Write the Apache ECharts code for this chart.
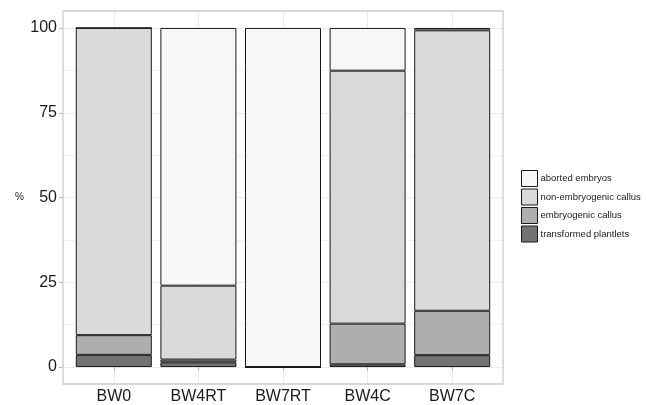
<!DOCTYPE html>
<html>
<head>
<meta charset="utf-8">
<script src="https://cdn.jsdelivr.net/npm/echarts@6/dist/echarts.min.js"></script>
<style>
html,body{margin:0;padding:0;background:#fff;}
#chart{width:646px;height:405px;}
</style>
</head>
<body>
<div id="chart"></div>
<script>
// Categories and stacked values (percent), bottom to top
var categories = ['BW0', 'BW4RT', 'BW7RT', 'BW4C', 'BW7C'];
var transformedPlantlets = [3.6, 1.4, 0, 0.8, 3.5];
var embryogenicCallus = [5.8, 0.8, 0, 12.0, 13.1];
var nonEmbryogenicCallus = [90.6, 21.8, 0, 74.6, 82.7];
var abortedEmbryos = [0, 76.0, 100, 12.6, 0.7];
var yTicks = [0, 25, 50, 75, 100];

var seriesNames = ['transformed plantlets', 'embryogenic callus', 'non-embryogenic callus', 'aborted embryos'];
var seriesData = [transformedPlantlets, embryogenicCallus, nonEmbryogenicCallus, abortedEmbryos];
var seriesColors = ['#727272', '#adaead', '#d9dad9', '#f7f7f7'];

var FONT = 'Liberation Sans, Arial, sans-serif';
var chart = echarts.init(document.getElementById('chart'), null, {renderer: 'canvas'});

var series = seriesNames.map(function (name, i) {
  return {
    name: name,
    type: 'bar',
    stack: 'total',
    xAxisIndex: 1,
    yAxisIndex: 1,
    barWidth: 76,
    clip: false,
    data: seriesData[i],
    itemStyle: {color: seriesColors[i], borderColor: '#1a1a1a', borderWidth: 1},
    emphasis: {disabled: true},
    z: 5
  };
});

var option = {
  animation: false,
  backgroundColor: '#ffffff',
  grid: [
    {left: 63, right: 143, top: 28, bottom: 38},
    {left: 113.8, right: 646 - 452.2, top: 11, bottom: 21}
  ],
  xAxis: [
    {gridIndex: 0, type: 'value', show: false, min: 0, max: 1},
    {
      gridIndex: 1, type: 'category', data: categories, boundaryGap: false,
      axisLine: {show: false},
      axisTick: {show: true, length: 4, lineStyle: {color: '#b8b8b8', width: 1}},
      axisLabel: {margin: 5, fontSize: 16, color: '#1a1a1a', fontFamily: FONT},
      splitLine: {show: true, lineStyle: {color: '#ebebeb', width: 1}}
    }
  ],
  yAxis: [
    {
      gridIndex: 0, type: 'value', min: yTicks[0], max: yTicks[yTicks.length - 1], interval: 25,
      name: '%', nameLocation: 'middle', nameRotate: 0, nameGap: 39,
      nameTextStyle: {fontSize: 10, color: '#1a1a1a', fontFamily: FONT},
      axisLine: {show: false},
      axisTick: {show: true, length: 4, lineStyle: {color: '#b8b8b8', width: 1}},
      axisLabel: {margin: 6, fontSize: 16, color: '#1a1a1a', fontFamily: FONT},
      splitLine: {show: true, lineStyle: {color: '#ebebeb', width: 1}},
      minorTick: {show: false, splitNumber: 2},
      minorSplitLine: {show: true, lineStyle: {color: '#f2f2f2', width: 1}}
    },
    {gridIndex: 1, type: 'value', min: -5, max: 105, show: false, splitLine: {show: false}}
  ],
  legend: {
    orient: 'vertical',
    left: 521,
    top: 170,
    padding: 0,
    itemWidth: 16,
    itemHeight: 16,
    itemGap: 1.5,
    icon: 'rect',
    data: ['aborted embryos', 'non-embryogenic callus', 'embryogenic callus', 'transformed plantlets'],
    itemStyle: {borderColor: '#1a1a1a', borderWidth: 1},
    textStyle: {fontSize: 9.5, color: '#1a1a1a', fontFamily: FONT, padding: [0, 0, 0, -2]},
    selectedMode: false
  },
  graphic: [
    {
      type: 'rect', z: 100, silent: true,
      shape: {x: 63, y: 11, width: 440, height: 373},
      style: {fill: 'none', stroke: '#cccccc', lineWidth: 1.3}
    }
  ],
  series: series
};
chart.setOption(option);
</script>
</body>
</html>
